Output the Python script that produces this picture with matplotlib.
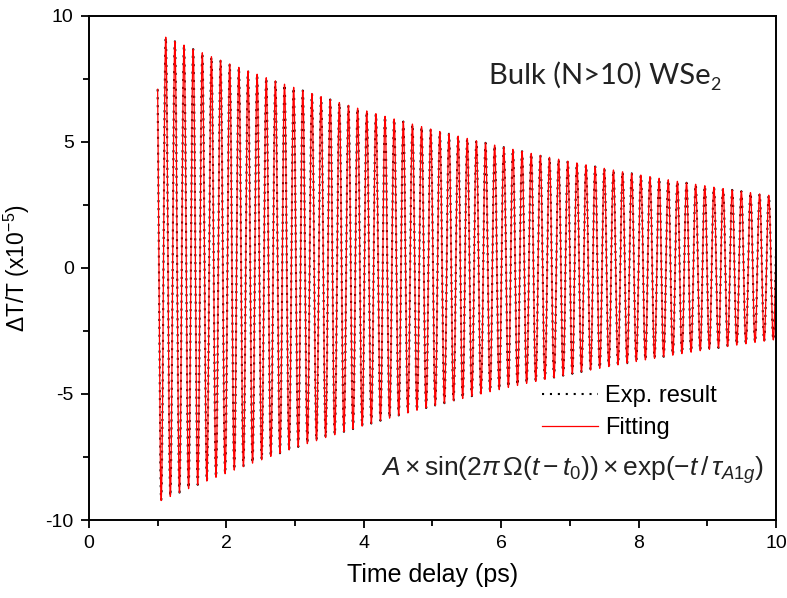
import numpy as np
import matplotlib
matplotlib.use('Agg')
import matplotlib.pyplot as plt
from matplotlib.ticker import MultipleLocator

# fit parameters (delta T/T in units of 1e-5, time in ps)
amp_A = 10.6        # amplitude A
omega = 7.52        # frequency, THz
t_zero = 0.021      # t0, ps
tau_a1g = 7.6       # decay time, ps
t_start = 1.0
t_end = 10.0

x_ticks = [0, 2, 4, 6, 8, 10]
y_ticks = [-10, -5, 0, 5, 10]

plt.rcParams['font.family'] = ['Liberation Sans', 'DejaVu Sans']
plt.rcParams['axes.unicode_minus'] = False
plt.rcParams['mathtext.fontset'] = 'custom'
plt.rcParams['mathtext.rm'] = 'Liberation Sans'
plt.rcParams['mathtext.it'] = 'Liberation Sans:italic'
plt.rcParams['mathtext.bf'] = 'Liberation Sans:bold'

def model(t):
    return amp_A * np.sin(2 * np.pi * omega * (t - t_zero)) * np.exp(-t / tau_a1g)

t = np.arange(t_start, t_end + 0.0005, 0.002)
y = model(t)

fig = plt.figure(figsize=(7.87, 5.98), dpi=100)
ax = fig.add_axes([0.113, 0.1304, 0.873, 0.8433])

ax.plot(t, y, color='black', lw=1.5, linestyle=(0, (1, 2.8)), label='Exp. result')
ax.plot(t, y, color='red', lw=0.9, label='Fitting')

ax.set_xlim(0, 10)
ax.set_ylim(-10, 10)
ax.set_xticks(x_ticks)
ax.set_yticks(y_ticks)
ax.xaxis.set_minor_locator(MultipleLocator(1))
ax.yaxis.set_minor_locator(MultipleLocator(2.5))
ax.tick_params(which='major', direction='out', length=6, width=1.3, labelsize=14, pad=5)
ax.tick_params(which='minor', direction='out', length=4, width=1.3)
for s in ax.spines.values():
    s.set_linewidth(1.4)

ax.set_xlabel('Time delay (ps)', fontsize=18, labelpad=8)
ax.set_ylabel(r'$\Delta$T/T (x10$^{-5}$)', fontsize=16.5, labelpad=10)

ax.text(0.905, 0.882, 'Bulk (N>10) WSe', transform=ax.transAxes, fontsize=21,
        family=['Lato', 'DejaVu Sans'], color='#222222', ha='right', va='center')
ax.text(0.904, 0.862, '2', transform=ax.transAxes, fontsize=13,
        family=['Lato', 'DejaVu Sans'], color='#222222', ha='left', va='center')

ax.legend(loc='upper left', bbox_to_anchor=(0.659, 0.268), frameon=False, fontsize=17,
          handlelength=2.4, handletextpad=0.3, labelspacing=0.45,
          borderpad=0, borderaxespad=0)

ax.text(0.983, 0.099,
        r'$A\times\mathrm{sin}(2\pi\,\Omega(t-t_0))\times\mathrm{exp}(-t\,/\,\tau_{A1g})$',
        transform=ax.transAxes, fontsize=19, ha='right', va='center', color='#222222')

fig.savefig('out.png', dpi=100)
